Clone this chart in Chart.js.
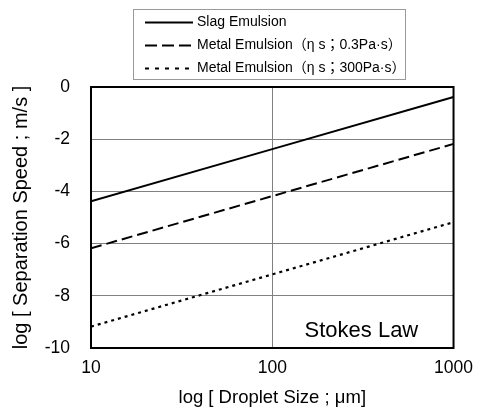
<!DOCTYPE html>
<html>
<head>
<meta charset="utf-8">
<script src="https://cdn.jsdelivr.net/npm/chart.js@4/dist/chart.umd.min.js"></script>
<style>
html,body{margin:0;padding:0;background:#fff;}
canvas{display:block;}
</style>
</head>
<body>
<canvas id="c" width="483" height="416"></canvas>
<script>
// ---- data ----
const dropletSizes = [10, 100, 1000];            // μm (log axis)
const slagSpeed    = [-4.38, -2.38, -0.38];      // log m/s
const metalLowVisc = [-6.18, -4.18, -2.18];      // ηs = 0.3 Pa·s
const metalHighVisc= [-9.18, -7.18, -5.18];      // ηs = 300 Pa·s
const xTickValues  = [10, 100, 1000];
const yTickValues  = [0, -2, -4, -6, -8, -10];
const seriesLabels = ['Slag Emulsion', 'Metal Emulsion（η s；0.3Pa·s）', 'Metal Emulsion（η s；300Pa·s）'];
const annotationText = 'Stokes Law';
const xTitle = 'log [ Droplet Size ; μm]';
const yTitle = 'log [ Separation Speed ; m/s ]';

const FONT = '"Liberation Sans", Arial, "Noto Sans CJK JP", sans-serif';

function pts(ys){ return dropletSizes.map((x,i)=>({x:x, y:ys[i]})); }

const frameAndText = {
  id: 'frameAndText',
  afterDraw(chart){
    const ctx = chart.ctx, a = chart.chartArea;
    ctx.save();
    // plot frame
    ctx.strokeStyle = '#000'; ctx.lineWidth = 2; ctx.setLineDash([]);
    ctx.strokeRect(a.left, a.top, a.right - a.left, a.bottom - a.top);
    // annotation
    ctx.fillStyle = '#000';
    ctx.font = '22px ' + FONT;
    ctx.textAlign = 'left'; ctx.textBaseline = 'alphabetic';
    ctx.fillText(annotationText, a.right - 149, a.bottom - 11);
    // legend box
    const bx = 133, by = 9, bw = 272, bh = 70;
    ctx.strokeStyle = '#9a9a9a'; ctx.lineWidth = 1;
    ctx.strokeRect(bx + 0.5, by + 0.5, bw, bh);
    ctx.font = '14px ' + FONT;
    ctx.textBaseline = 'middle';
    chart.data.datasets.forEach((ds, i) => {
      const y = by + 13.5 + i * 23;
      ctx.strokeStyle = '#000';
      ctx.lineWidth = ds.borderWidth;
      ctx.setLineDash(ds.legendDash || []);
      ctx.beginPath();
      ctx.moveTo(bx + 12, y); ctx.lineTo(bx + 60, y);
      ctx.stroke();
      ctx.setLineDash([]);
      ctx.fillText(ds.label, bx + 64, y);
    });
    ctx.restore();
  }
};

new Chart(document.getElementById('c'), {
  type: 'line',
  data: {
    datasets: [
      { label: seriesLabels[0], data: pts(slagSpeed), borderColor: '#000', borderWidth: 2, pointRadius: 0, tension: 0 },
      { label: seriesLabels[1], data: pts(metalLowVisc), borderColor: '#000', borderWidth: 2, borderDash: [11, 5], legendDash: [12, 5], pointRadius: 0, tension: 0 },
      { label: seriesLabels[2], data: pts(metalHighVisc), borderColor: '#000', borderWidth: 2.2, borderDash: [3, 4], legendDash: [4, 6], pointRadius: 0, tension: 0 }
    ]
  },
  options: {
    responsive: false,
    animation: false,
    layout: { padding: { top: 87, right: 27, left: 0, bottom: 0 } },
    plugins: { legend: { display: false }, tooltip: { enabled: false } },
    scales: {
      x: {
        type: 'logarithmic', min: 10, max: 1000,
        afterBuildTicks(s){ s.ticks = xTickValues.map(v => ({value: v})); },
        afterFit(s){ s.height = 68; },
        ticks: { color: '#000', font: { family: FONT, size: 17.5 }, padding: 10, maxRotation: 0,
                 callback: v => String(v) },
        grid: { color: '#808080', lineWidth: 1, drawTicks: false },
        border: { display: true, color: '#000', width: 2 },
        title: { display: true, text: xTitle, color: '#000', font: { family: FONT, size: 18.5 }, padding: { top: 0, bottom: 7 } }
      },
      y: {
        type: 'linear', min: -10, max: 0,
        afterBuildTicks(s){ s.ticks = yTickValues.map(v => ({value: v})); },
        afterFit(s){ s.width = 91; },
        ticks: { color: '#000', font: { family: FONT, size: 17.5 }, padding: 21 },
        grid: { color: '#808080', lineWidth: 1, drawTicks: false },
        border: { display: true, color: '#000', width: 2 },
        title: { display: true, text: yTitle, color: '#000', font: { family: FONT, size: 20 }, padding: { top: 9, bottom: 0 } }
      }
    }
  },
  plugins: [frameAndText]
});
</script>
</body>
</html>
